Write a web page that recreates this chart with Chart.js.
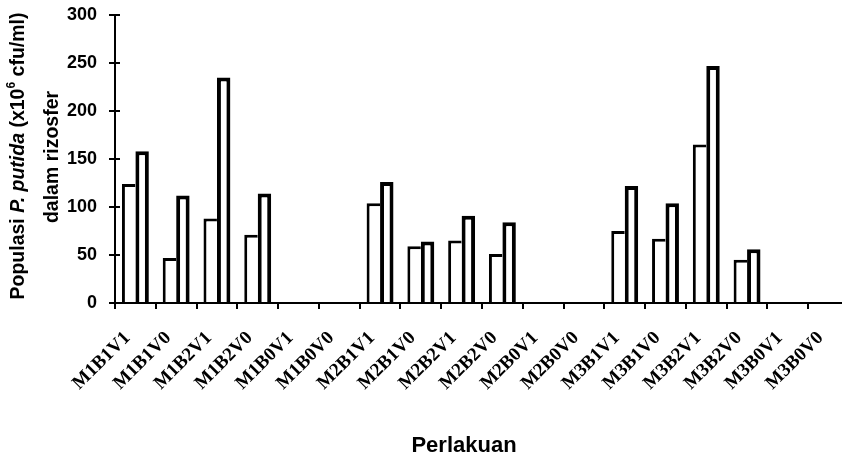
<!DOCTYPE html>
<html>
<head>
<meta charset="utf-8">
<script src="https://cdn.jsdelivr.net/npm/chart.js@4.4.0/dist/chart.umd.min.js"></script>
<style>
  html, body { margin: 0; padding: 0; background: #fff; overflow: hidden; }
  #wrap { width: 852px; height: 460px; }
</style>
</head>
<body>
<div id="wrap"><canvas id="myChart" width="852" height="460"></canvas></div>
<script>
const categories = ['M1B1V1', 'M1B1V0', 'M1B2V1', 'M1B2V0', 'M1B0V1', 'M1B0V0',
                    'M2B1V1', 'M2B1V0', 'M2B2V1', 'M2B2V0', 'M2B0V1', 'M2B0V0',
                    'M3B1V1', 'M3B1V0', 'M3B2V1', 'M3B2V0', 'M3B0V1', 'M3B0V0'];
const seriesA = [124, 47, 88, 71, 0, 0, 104, 59, 65, 51, 0, 0, 75, 67, 165, 45, 0, 0];
const seriesB = [158, 112, 235, 114, 0, 0, 126, 64, 91, 84, 0, 0, 122, 104, 247, 56, 0, 0];
const yTicks = [0, 50, 100, 150, 200, 250, 300];

const SANS = '"Liberation Sans", Arial, sans-serif';

// axis titles drawn by hand (italic species name + superscript)
const titlePlugin = {
    id: 'titles',
    afterDraw(chart) {
        const ctx = chart.ctx;
        const size = 19.5;
        const line1 = [
            { t: 'Populasi ', f: 'bold ' + size + 'px ' + SANS },
            { t: 'P. putida', f: 'italic bold ' + size + 'px ' + SANS },
            { t: ' (x10', f: 'bold ' + size + 'px ' + SANS },
            { t: '6', f: 'bold 12px ' + SANS, sup: true },
            { t: ' cfu/ml)', f: 'bold ' + size + 'px ' + SANS },
        ];
        ctx.save();
        ctx.fillStyle = '#000';
        ctx.textBaseline = 'middle';
        let total = 0;
        line1.forEach(p => { ctx.font = p.f; p.w = ctx.measureText(p.t).width; total += p.w; });
        ctx.translate(19, 156);
        ctx.rotate(-Math.PI / 2);
        let x = -total / 2;
        line1.forEach(p => {
            ctx.font = p.f;
            ctx.textAlign = 'left';
            ctx.fillText(p.t, x, p.sup ? -7 : 0);
            x += p.w;
        });
        ctx.restore();

        ctx.save();
        ctx.fillStyle = '#000';
        ctx.font = 'bold ' + size + 'px ' + SANS;
        ctx.textAlign = 'center';
        ctx.textBaseline = 'middle';
        ctx.translate(53, 157);
        ctx.rotate(-Math.PI / 2);
        ctx.fillText('dalam rizosfer', 0, 0);
        ctx.restore();

        ctx.save();
        ctx.fillStyle = '#000';
        ctx.font = 'bold 22px ' + SANS;
        ctx.textAlign = 'center';
        ctx.textBaseline = 'middle';
        ctx.fillText('Perlakuan', 464, 446);
        ctx.restore();

        // y tick marks also cross to the inside of the axis
        const y = chart.scales.y;
        ctx.save();
        ctx.strokeStyle = '#000';
        ctx.lineWidth = 2;
        yTicks.forEach(v => {
            const py = Math.round(y.getPixelForValue(v));
            ctx.beginPath();
            ctx.moveTo(y.right, py);
            ctx.lineTo(y.right + 5, py);
            ctx.stroke();
        });
        ctx.restore();
    }
};

new Chart(document.getElementById('myChart'), {
    type: 'bar',
    data: {
        labels: categories,
        datasets: [{
            data: seriesA,
            backgroundColor: '#fff',
            borderColor: '#000',
            borderWidth: { left: 3, top: 3, right: 0, bottom: 0 },
            categoryPercentage: 0.66,
            barPercentage: 1.0,
        }, {
            data: seriesB,
            backgroundColor: '#fff',
            borderColor: '#000',
            borderWidth: { left: 4, top: 4, right: 4, bottom: 0 },
            categoryPercentage: 0.66,
            barPercentage: 1.0,
        }],
    },
    options: {
        responsive: false,
        animation: false,
        devicePixelRatio: 1,
        layout: { padding: { top: 15, right: 3, left: 0, bottom: 0 } },
        plugins: {
            legend: { display: false },
            tooltip: { enabled: false },
        },
        scales: {
            x: {
                grid: { drawOnChartArea: false, drawTicks: true, tickLength: 6, color: '#000', lineWidth: 2 },
                border: { display: true, color: '#000', width: 2 },
                ticks: {
                    color: '#000',
                    autoSkip: false,
                    minRotation: 45,
                    maxRotation: 45,
                    padding: 18,
                    labelOffset: -8,
                    font: { family: '"Liberation Serif", "Times New Roman", serif', size: 19, weight: 'bold' },
                },
                afterFit(scale) {
                    scale.height = 157;
                    scale.paddingLeft = 0;
                    scale.paddingRight = 0;
                },
            },
            y: {
                min: 0,
                max: 300,
                afterBuildTicks(scale) { scale.ticks = yTicks.map(v => ({ value: v })); },
                grid: { drawOnChartArea: false, drawTicks: true, tickLength: 6, color: '#000', lineWidth: 2 },
                border: { display: true, color: '#000', width: 2 },
                ticks: {
                    color: '#000',
                    padding: 12,
                    font: { family: SANS, size: 18, weight: 'bold' },
                },
                afterFit(scale) {
                    scale.width = 115;
                    scale.paddingTop = 0;
                    scale.paddingBottom = 0;
                },
            },
        },
    },
    plugins: [titlePlugin],
});
</script>
</body>
</html>
